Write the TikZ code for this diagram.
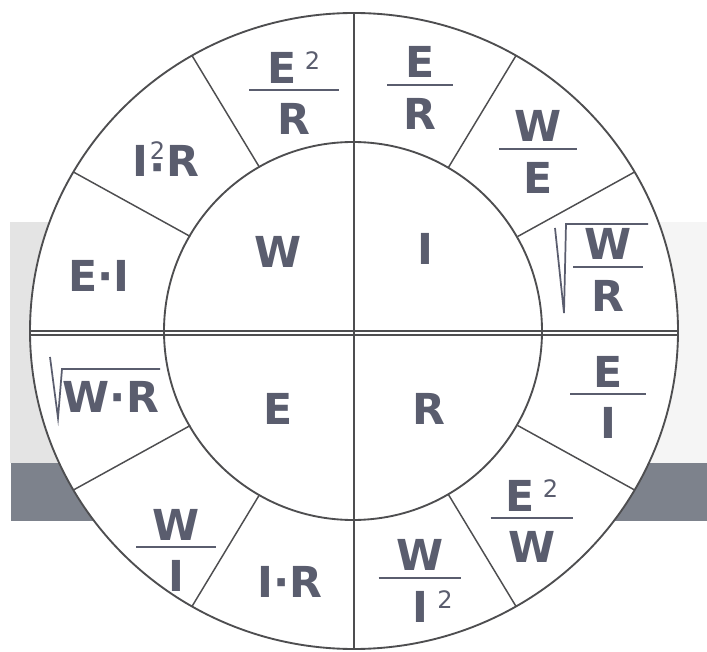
\documentclass[tikz,border=0pt]{standalone}
\usepackage{fontspec}
\usepackage{tikz}
\newfontfamily\radfont{DejaVu Sans}
\definecolor{tinte}{HTML}{5A5D6E}
\definecolor{strich}{HTML}{4E4E50}
\definecolor{hellgrau}{HTML}{E4E4E4}
\definecolor{blassgrau}{HTML}{F5F5F5}
\definecolor{dunkelgrau}{HTML}{7D828C}
\newcommand\hoch[1][10pt]{\raisebox{#1}{\mdseries\fontsize{18pt}{18pt}\selectfont 2}}
\newcommand\bruch[3]{\vbox{\offinterlineskip\halign{\hfil##\hfil\cr#2\cr\noalign{\kern4.5pt}\rule{#1}{1.5pt}\cr\noalign{\kern9pt}#3\cr}}}
\tikzset{formel/.style={text=tinte,inner sep=0pt,font=\radfont\bfseries\fontsize{32pt}{32pt}\selectfont}}

\begin{document}
\begin{tikzpicture}[x=0.75pt,y=-0.75pt]
  \useasboundingbox (0,0) rectangle (707,652);
  \fill[hellgrau] (10,222) rectangle (360,463);
  \fill[blassgrau] (350,222) rectangle (707,463);
  \fill[dunkelgrau] (11,463) rectangle (707,521);
  \fill[white,draw=strich,line width=1.4pt] (354,331) ellipse [x radius=324,y radius=318];
  \draw[strich,line width=1.4pt] (353,331) circle [radius=189];
  \begin{scope}[shift={(354,331)}]
    \foreach \w in {30,60,120,150,210,240,300,330}
      \draw[strich,line width=1.1pt] (\w:189) -- (\w:324 and 318);
  \end{scope}
  \draw[strich,line width=0.8pt] (30,331)--(678,331);
  \draw[strich,line width=0.8pt] (30,335)--(678,335);
  \draw[strich,line width=2.2pt] (354,13)--(354,650);
  % Mitte
  \node[formel] (W) at (278,252) {W};
  \node[formel] (I) at (425,249) {I};
  \node[formel] (E) at (278,409) {E};
  \node[formel] (R) at (429,409) {R};
  % Ring
  \node[formel] (ER) at (420,88) {\bruch{49pt}{E}{R}};
  \node[formel] (EqR) at (294,93) {\bruch{67pt}{E\kern6pt\hoch}{R}};
  \node[formel] (WE) at (538,152) {\bruch{58pt}{W}{E}};
  \node[formel] (WR) at (608,270) {\bruch{52pt}{W}{R}};
  \node[formel] (EI) at (608,397) {\bruch{57pt}{E}{I}};
  \node[formel] (EqW) at (532,521) {\bruch{62pt}{E\kern6pt\hoch}{W}};
  \node[formel] (WIq) at (420,581) {\bruch{62pt}{W}{I\rlap{\kern7pt\hoch}}};
  \node[formel] (IR) at (290,582) {I·R};
  \node[formel] (WI) at (176,550) {\bruch{60pt}{W}{I}};
  \node[formel] (WmR) at (111,397) {W·R};
  \node[formel] (EmI) at (99,276) {E·I};
  \node[formel] (IqR) at (166,162) {I\kern1pt\ooalign{\hfil\hoch[13pt]\hfil\cr\hfil\raisebox{-4.5pt}{·}\hfil\cr}\kern1pt R};
  % Wurzeln
  \draw[tinte,line width=1.3pt] (555,228) -- (564,313) -- (566,224) -- (648,224);
  \draw[tinte,line width=1.3pt] (50,357) -- (58,418) -- (62,369) -- (160,369);
\end{tikzpicture}
\end{document}
